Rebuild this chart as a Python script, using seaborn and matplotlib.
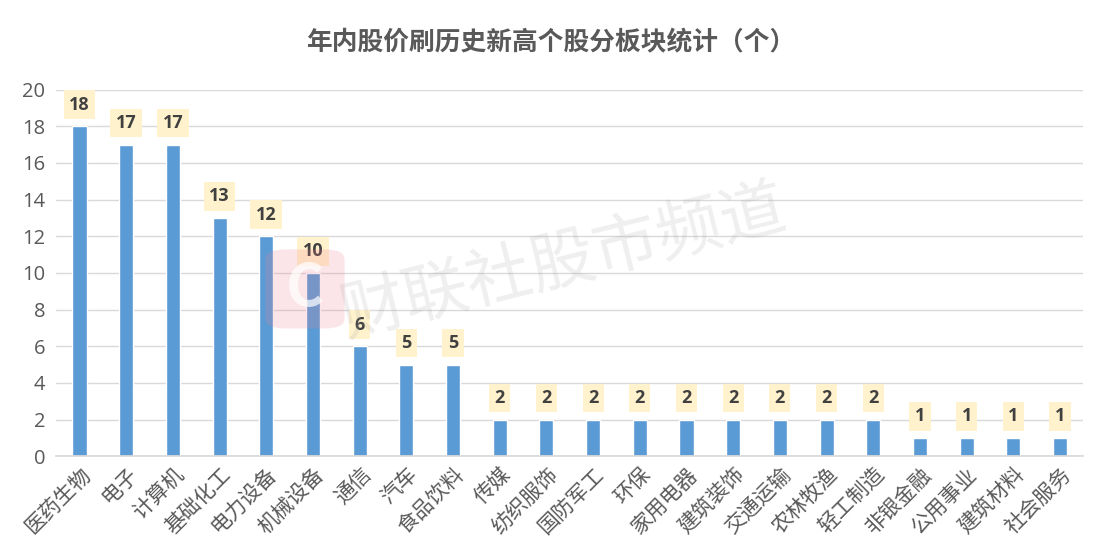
import matplotlib
matplotlib.use("Agg")
import matplotlib.pyplot as plt
import seaborn as sns
import pandas as pd
from matplotlib.patches import FancyBboxPatch

categories = ["医药生物", "电子", "计算机", "基础化工", "电力设备", "机械设备", "通信", "汽车",
              "食品饮料", "传媒", "纺织服饰", "国防军工", "环保", "家用电器", "建筑装饰", "交通运输",
              "农林牧渔", "轻工制造", "非银金融", "公用事业", "建筑材料", "社会服务"]
values = [18, 17, 17, 13, 12, 10, 6, 5, 5, 2, 2, 2, 2, 2, 2, 2, 2, 2, 1, 1, 1, 1]
yticks = [0, 2, 4, 6, 8, 10, 12, 14, 16, 18, 20]
title = "年内股价刷历史新高个股分板块统计（个）"
watermark = "财联社股市频道"

sns.set_theme(style="white")
plt.rcParams['font.family'] = ['Noto Sans CJK SC', 'DejaVu Sans']

df = pd.DataFrame({"cat": categories, "val": values})

fig = plt.figure(figsize=(11.01, 5.53), dpi=100)
ax = fig.add_axes([0.051, 0.175, 0.933, 0.663])

sns.barplot(data=df, x="cat", y="val", color="#5B9BD5", saturation=1, width=0.3, ax=ax)

ax.set_ylim(0, 20)
ax.set_yticks(yticks)
ax.set_yticklabels([str(t) for t in yticks], fontsize=14.5, color="#595959", family=['Open Sans', 'DejaVu Sans'])
ax.set_xlim(-0.5, len(categories) - 0.5)
ax.set_xticks(range(len(categories)))
ax.set_xticklabels(categories, rotation=45, ha="right", rotation_mode="anchor", fontsize=15, color="#595959")
ax.tick_params(axis="y", length=0, pad=8)
ax.tick_params(axis="x", length=0, pad=5)
ax.set_xlabel("")
ax.set_ylabel("")
ax.grid(axis="y", color="#D9D9D9", linewidth=1)
ax.set_axisbelow(True)
for s in ["top", "right", "left"]:
    ax.spines[s].set_visible(False)
ax.spines["bottom"].set_color("#D9D9D9")

for i, v in enumerate(values):
    ax.annotate(str(v), xy=(i, v), xytext=(0, 9), textcoords="offset points",
                ha="center", va="bottom", fontsize=13, fontweight="bold", color="#404040",
                family=['Open Sans', 'DejaVu Sans'],
                bbox=dict(boxstyle="square,pad=0.3", fc="#FFF2CC", ec="none"))

fig.text(0.5, 0.922, title, ha="center", va="center", fontsize=18.5, fontweight="bold", color="#595959")

# watermark
fig.text(0.512, 0.525, watermark, ha="center", va="center", fontsize=47, color="#9E9E9E",
         alpha=0.17, rotation=14)
logo = FancyBboxPatch((0.245, 0.41), 0.064, 0.135, boxstyle="round,pad=0.004,rounding_size=0.018",
                      transform=fig.transFigure, fc="#F08090", ec="none", alpha=0.2)
fig.patches.append(logo)
fig.text(0.277, 0.478, "C", ha="center", va="center", fontsize=42, fontweight="bold", color="white", alpha=0.7)

fig.savefig("out.png", dpi=100)
